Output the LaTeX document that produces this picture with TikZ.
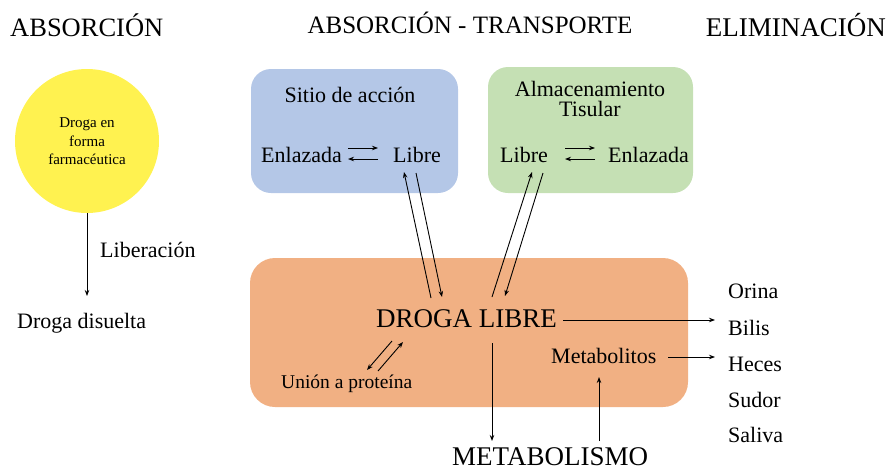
\documentclass[tikz,border=0pt]{standalone}
\usepackage{fontspec}
\setmainfont{Liberation Serif}
\usetikzlibrary{arrows.meta}
\definecolor{cyellow}{RGB}{255,242,80}
\definecolor{cblue}{RGB}{180,199,231}
\definecolor{cgreen}{RGB}{197,224,180}
\definecolor{corange}{RGB}{241,176,131}
\newcommand{\fs}[1]{\fontsize{#1}{#1}\selectfont}
\tikzset{
  lbl/.style={inner sep=0pt, anchor=base},
  arr/.style={-{Stealth[length=6pt,width=4.5pt]}, line width=0.9pt},
  panel/.style={rounded corners=20pt, draw=none}
}
\begin{document}
\begin{tikzpicture}[x=1pt,y=-1pt]
\useasboundingbox (0,0) rectangle (890,471);
% titles
\node[lbl, anchor=base west] (t1) at (10,36) {\fs{26.5}ABSORCIÓN};
\node[lbl] (t2) at (470,33) {\fs{25}ABSORCIÓN - TRANSPORTE};
\node[lbl, anchor=base east] (t3) at (886,36) {\fs{27}ELIMINACIÓN};
% panels
\fill[cyellow] (87,141) circle (72);
\node (circ) at (87,141) [circle, minimum size=144pt, inner sep=0pt] {};
\node[lbl] (d1) at (87,127) {\fs{15}Droga en};
\node[lbl] (d2) at (87,146) {\fs{15}forma};
\node[lbl] (d3) at (87,164) {\fs{15}farmacéutica};
\node[panel, fill=cblue, minimum width=207pt, minimum height=124pt] (blue) at (354.5,131) {};
\node[panel, fill=cgreen, minimum width=205pt, minimum height=126pt] (green) at (590.5,130) {};
\node[panel, fill=corange, rounded corners=25pt, minimum width=438pt, minimum height=149pt] (orange) at (469,332.5) {};
% left column
\node[lbl, anchor=base west] (lib) at (100,257) {\fs{22}Liberación};
\node[lbl, anchor=base west] (dis) at (17,328) {\fs{22}Droga disuelta};
\coordinate (disTop) at (87,296);
\draw[arr] (circ.south) -- (disTop);
% blue box texts
\node[lbl] (sitio) at (350,102) {\fs{22}Sitio de acción};
\node[lbl, anchor=base west] (benl) at (261,162) {\fs{22}Enlazada};
\node[lbl, anchor=base west] (blib) at (393,162) {\fs{22}Libre};
% green box texts
\node[lbl] (alm) at (590,96) {\fs{22}Almacenamiento};
\node[lbl] (tis) at (590,116) {\fs{22}Tisular};
\node[lbl, anchor=base west] (glib) at (500,162) {\fs{22}Libre};
\node[lbl, anchor=base west] (genl) at (608,162) {\fs{22}Enlazada};
% orange box texts
\node[lbl, anchor=base west] (droga) at (376,327) {\fs{27}DROGA LIBRE};
\node[lbl, anchor=base west] (meta) at (551,363) {\fs{22}Metabolitos};
\node[lbl, anchor=base west] (union) at (281,388) {\fs{19.5}Unión a proteína};
\node[lbl, anchor=base west] (metab) at (452,465) {\fs{27}METABOLISMO};
% elimination list
\node[lbl, anchor=base west] (orina) at (728,298) {\fs{22}Orina};
\node[lbl, anchor=base west] (bilis) at (728,335) {\fs{22}Bilis};
\node[lbl, anchor=base west] (heces) at (728,371) {\fs{22}Heces};
\node[lbl, anchor=base west] (sudor) at (728,407) {\fs{22}Sudor};
\node[lbl, anchor=base west] (saliva) at (728,442) {\fs{22}Saliva};
% equilibrium arrows blue
\coordinate (b1a) at (348,148); \coordinate (b1b) at (378,148);
\coordinate (b2a) at (378,159); \coordinate (b2b) at (348,159);
\draw[arr] (b1a) -- (b1b);
\draw[arr] (b2a) -- (b2b);
% equilibrium arrows green
\coordinate (g1a) at (565,148); \coordinate (g1b) at (595,148);
\coordinate (g2a) at (595,159); \coordinate (g2b) at (565,159);
\draw[arr] (g1a) -- (g1b);
\draw[arr] (g2a) -- (g2b);
% diagonal arrows blue <-> droga
\coordinate (p1) at (431,298); \coordinate (p2) at (404,172);
\coordinate (p3) at (416,173); \coordinate (p4) at (442,297);
\draw[arr] (p1) -- (p2);
\draw[arr] (p3) -- (p4);
% diagonal arrows green <-> droga
\coordinate (q1) at (492,297); \coordinate (q2) at (532,172);
\coordinate (q3) at (543,173); \coordinate (q4) at (505,296);
\draw[arr] (q1) -- (q2);
\draw[arr] (q3) -- (q4);
% union a proteina arrows
\coordinate (u1) at (392,341); \coordinate (u2) at (367,370);
\coordinate (u3) at (378,371); \coordinate (u4) at (403,342);
\draw[arr] (u1) -- (u2);
\draw[arr] (u3) -- (u4);
% droga -> bilis
\coordinate (dr) at (563,320); \coordinate (be) at (715,320);
\draw[arr] (dr) -- (be);
% metabolitos -> heces
\coordinate (mr) at (668,357); \coordinate (he) at (715,357);
\draw[arr] (mr) -- (he);
% droga -> metabolismo
\coordinate (dd) at (492,343); \coordinate (mt) at (492,441);
\draw[arr] (dd) -- (mt);
% metabolismo -> metabolitos
\coordinate (m1) at (599,441); \coordinate (m2) at (599,377);
\draw[arr] (m1) -- (m2);
\end{tikzpicture}
\end{document}
